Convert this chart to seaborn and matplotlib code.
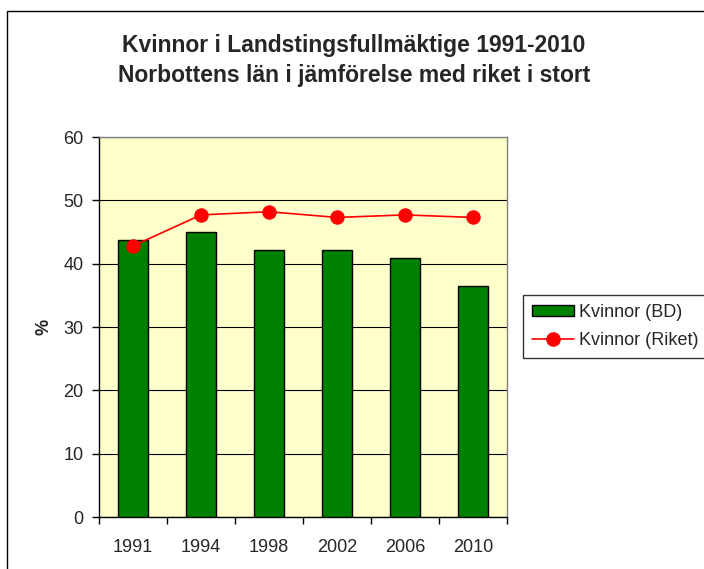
import numpy as np
import pandas as pd
import matplotlib
matplotlib.use('Agg')
import matplotlib.pyplot as plt
import seaborn as sns
from matplotlib.lines import Line2D
from matplotlib.patches import Patch, Rectangle

years = ['1991', '1994', '1998', '2002', '2006', '2010']
kvinnor_bd = [43.8, 45.0, 42.2, 42.2, 40.9, 36.5]
kvinnor_riket = [42.8, 47.7, 48.2, 47.3, 47.7, 47.3]

data = pd.DataFrame({'Year': years, 'BD': kvinnor_bd, 'Riket': kvinnor_riket})

sns.set_style('white')
plt.rcParams['font.family'] = ['Liberation Sans', 'DejaVu Sans']

fig = plt.figure(figsize=(7.04, 5.69), dpi=100)
ax = fig.add_axes([99 / 704, 1 - 517 / 569, 408 / 704, 380 / 569])
ax.set_facecolor('#FFFFCC')

sns.barplot(data=data, x='Year', y='BD', color='#008000', edgecolor='black',
            linewidth=1, width=0.43, saturation=1, ax=ax, zorder=3)
sns.pointplot(data=data, x='Year', y='Riket', color='red', markers='o',
              markersize=9.5, linewidth=1.2, ax=ax, zorder=4)

ax.set_ylim(0, 60)
ax.set_xlim(-0.5, 5.5)
ax.set_yticks(range(0, 61, 10))
ax.yaxis.grid(True, color='black', linewidth=0.8)
ax.set_axisbelow(True)
ax.tick_params(axis='y', direction='out', length=5, width=1, color='black',
               labelsize=13, pad=6, left=True)
ax.set_xticks(range(len(years)))
ax.set_xticklabels(years)
ax.tick_params(axis='x', which='major', length=0, labelsize=13, pad=16)
ax.set_xticks(np.arange(-0.5, 6, 1), minor=True)
ax.tick_params(axis='x', which='minor', direction='out', length=5, width=1,
               color='black', bottom=True)
ax.set_xlabel('')
ax.set_ylabel('%', fontsize=13, fontweight='bold', labelpad=8)

for side in ['top', 'right']:
    ax.spines[side].set_color('#808080')
    ax.spines[side].set_linewidth(1)
for side in ['left', 'bottom']:
    ax.spines[side].set_color('black')
    ax.spines[side].set_linewidth(1)

fig.text(354 / 704, 1 - 60.5 / 569,
         'Kvinnor i Landstingsfullmäktige 1991-2010\nNorbottens län i jämförelse med riket i stort',
         ha='center', va='center', fontsize=16.5, fontweight='bold', linespacing=1.35)

handles = [Patch(facecolor='#008000', edgecolor='black', label='Kvinnor (BD)'),
           Line2D([0], [0], color='red', marker='o', markersize=9.5, linewidth=1.2,
                  label='Kvinnor (Riket)')]
leg = fig.legend(handles=handles, loc='upper left',
                 bbox_to_anchor=(523 / 704, 1 - 295 / 569), frameon=True,
                 fancybox=False, edgecolor='black', fontsize=13,
                 borderaxespad=0, handlelength=2.3, handleheight=0.6,
                 handletextpad=0.3, borderpad=0.5, labelspacing=0.6)
leg.get_frame().set_linewidth(1)

fig.patches.append(Rectangle((7.5 / 704, -0.1), 1.2, 1 - 10.5 / 569 + 0.1,
                             transform=fig.transFigure, fill=False,
                             edgecolor='black', linewidth=1))

fig.savefig('out.png', dpi=100)
